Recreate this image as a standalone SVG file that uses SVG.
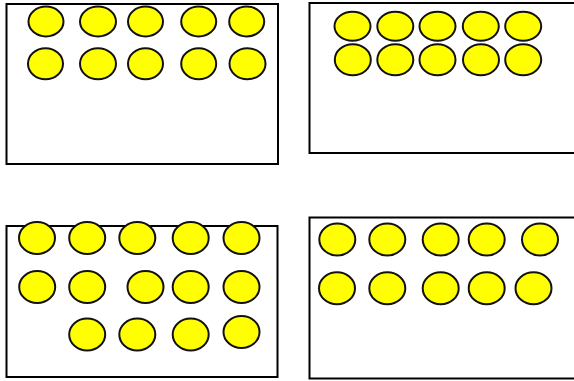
<svg xmlns="http://www.w3.org/2000/svg" width="574" height="381" viewBox="0 0 574 381">
<style>
.box{fill:#fff;stroke:#000;stroke-width:2}
.c{fill:#ffff00;stroke:#111;stroke-width:2}
</style>
<rect width="574" height="381" fill="#fff"/>
<g id="panel1">
<rect class="box" x="6.5" y="4" width="271.5" height="160"/>
<ellipse class="c" cx="46" cy="21.5" rx="17.5" ry="15"/>
<ellipse class="c" cx="98" cy="21.5" rx="18" ry="15"/>
<ellipse class="c" cx="145.5" cy="21.5" rx="17.5" ry="15"/>
<ellipse class="c" cx="198.7" cy="21.5" rx="17.5" ry="15"/>
<ellipse class="c" cx="246.7" cy="21.5" rx="17.5" ry="15"/>
<ellipse class="c" cx="45.5" cy="63.7" rx="17.5" ry="15.5"/>
<ellipse class="c" cx="98" cy="63.7" rx="18" ry="15.5"/>
<ellipse class="c" cx="145.5" cy="63.7" rx="17.5" ry="15.5"/>
<ellipse class="c" cx="198.7" cy="63.7" rx="17.5" ry="15.5"/>
<ellipse class="c" cx="247.5" cy="63.7" rx="18" ry="15.5"/>
</g>
<g id="panel2">
<rect class="box" x="309.5" y="3" width="270" height="150"/>
<ellipse class="c" cx="352.5" cy="26.2" rx="18" ry="14.5"/>
<ellipse class="c" cx="395.3" cy="26.2" rx="18" ry="14.5"/>
<ellipse class="c" cx="437.5" cy="26.2" rx="18" ry="14.5"/>
<ellipse class="c" cx="480.8" cy="26.2" rx="18" ry="14.5"/>
<ellipse class="c" cx="523.2" cy="26.2" rx="18" ry="14.5"/>
<ellipse class="c" cx="352.8" cy="59.7" rx="18" ry="15.5"/>
<ellipse class="c" cx="395.3" cy="59.7" rx="18" ry="15.5"/>
<ellipse class="c" cx="437.5" cy="59.7" rx="18" ry="15.5"/>
<ellipse class="c" cx="481" cy="59.7" rx="18" ry="15.5"/>
<ellipse class="c" cx="523.2" cy="59.7" rx="18" ry="15.5"/>
</g>
<g id="panel3">
<rect class="box" x="6.5" y="226" width="271" height="151"/>
<ellipse class="c" cx="37" cy="238" rx="18" ry="16"/>
<ellipse class="c" cx="87.2" cy="238" rx="18" ry="16"/>
<ellipse class="c" cx="137.3" cy="238" rx="18" ry="16"/>
<ellipse class="c" cx="190.7" cy="238" rx="18" ry="16"/>
<ellipse class="c" cx="241.5" cy="238" rx="18" ry="16"/>
<ellipse class="c" cx="37.2" cy="287" rx="18" ry="16"/>
<ellipse class="c" cx="87.2" cy="287" rx="18" ry="16"/>
<ellipse class="c" cx="145.5" cy="287" rx="18" ry="16"/>
<ellipse class="c" cx="190.7" cy="287" rx="18" ry="16"/>
<ellipse class="c" cx="241.5" cy="287" rx="18" ry="16"/>
<ellipse class="c" cx="87.2" cy="334.5" rx="18" ry="16"/>
<ellipse class="c" cx="137.3" cy="334.5" rx="18" ry="16"/>
<ellipse class="c" cx="190.7" cy="334.5" rx="18" ry="16"/>
<ellipse class="c" cx="241.5" cy="332" rx="18" ry="16"/>
</g>
<g id="panel4">
<rect class="box" x="309.5" y="217.5" width="270" height="161"/>
<ellipse class="c" cx="337.3" cy="239.5" rx="18" ry="16"/>
<ellipse class="c" cx="387.3" cy="239.5" rx="18" ry="16"/>
<ellipse class="c" cx="440.7" cy="239.5" rx="18" ry="16"/>
<ellipse class="c" cx="486.7" cy="239.5" rx="18" ry="16"/>
<ellipse class="c" cx="540" cy="239.5" rx="18" ry="16"/>
<ellipse class="c" cx="337" cy="288.3" rx="18" ry="16"/>
<ellipse class="c" cx="387.3" cy="288.3" rx="18" ry="16"/>
<ellipse class="c" cx="440.7" cy="288.3" rx="18" ry="16"/>
<ellipse class="c" cx="486.7" cy="288.3" rx="18" ry="16"/>
<ellipse class="c" cx="533.5" cy="288.3" rx="18" ry="16"/>
</g>
</svg>
